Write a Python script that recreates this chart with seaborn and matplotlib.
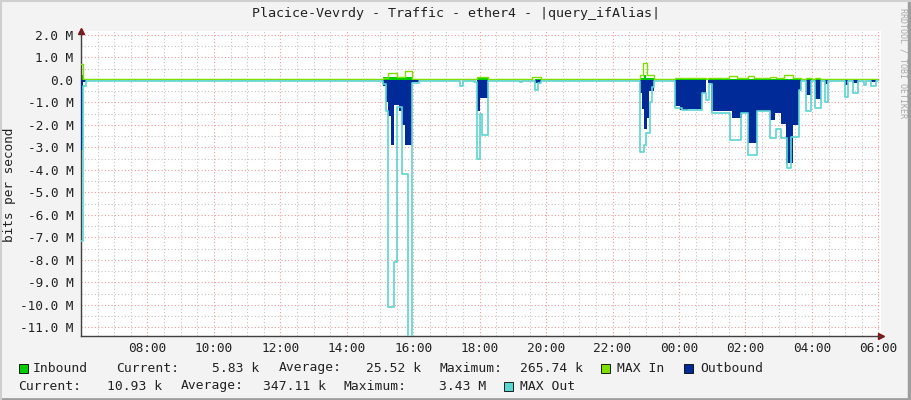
import matplotlib
matplotlib.use("Agg")
import matplotlib.pyplot as plt
from matplotlib.patches import Rectangle
from matplotlib.lines import Line2D
from matplotlib.ticker import MultipleLocator
import seaborn as sns

title = "Placice-Vevrdy - Traffic - ether4 - |query_ifAlias|"

# traffic in Mbit/s, each value holds from its clock time to the next one
in_times = ["06:00", "06:04", "15:05", "15:57", "17:55", "18:15", "19:40", "19:50",
            "22:50", "22:56", "23:01", "23:14", "23:52", "00:48", "00:53", "03:40", "05:59"]
in_vals = [0.20, 0.02, 0.12, 0.03, 0.08, 0.02, 0.06, 0.02,
           0.08, 0.20, 0.08, 0.02, 0.05, 0.03, 0.05, 0.03, 0.03]

maxin_times = ["06:00", "06:04", "15:05", "15:15", "15:30", "15:45", "15:57", "17:55", "18:15",
               "19:35", "19:50", "22:50", "22:55", "23:03", "23:14", "23:52", "00:48", "00:53",
               "01:30", "01:45", "02:05", "02:15", "02:45", "02:55", "03:10", "03:25", "03:40",
               "03:50", "04:00", "04:05", "04:15", "05:59"]
maxin_vals = [0.70, 0.03, 0.10, 0.30, 0.15, 0.40, 0.05, 0.15, 0.05,
              0.12, 0.05, 0.20, 0.75, 0.20, 0.04, 0.08, 0.05, 0.08,
              0.16, 0.08, 0.16, 0.08, 0.13, 0.08, 0.22, 0.08, 0.05,
              0.08, 0.05, 0.08, 0.04, 0.04]

out_times = ["06:00", "06:04", "06:09", "15:05", "15:10", "15:15", "15:20", "15:25", "15:35",
             "15:40", "15:45", "15:57", "16:10", "17:55", "18:00", "18:15", "19:40", "19:50",
             "22:50", "22:53", "22:57", "23:02", "23:06", "23:14", "23:52", "00:02", "00:17",
             "00:42", "00:48", "00:53", "00:58", "01:35", "01:53", "02:05", "02:20", "02:45",
             "02:54", "03:05", "03:14", "03:25", "03:36", "03:40", "03:49", "03:58", "04:05",
             "04:17", "04:23", "04:29", "05:00", "05:05", "05:15", "05:24", "05:46", "05:55", "05:59"]
out_vals = [-3.10, -0.10, -0.01, -0.25, -1.00, -1.60, -2.90, -1.10, -1.40,
            -2.00, -2.90, -0.10, -0.01, -1.40, -0.80, -0.01, -0.15, -0.01,
            -0.60, -1.30, -2.20, -1.70, -0.50, -0.01, -1.16, -1.33, -1.27,
            -0.58, -0.02, -0.15, -1.40, -1.70, -1.45, -2.80, -1.40, -1.80,
            -1.45, -1.95, -3.70, -2.00, -0.50, -0.01, -0.65, -0.01, -0.85,
            -0.01, -0.18, -0.01, -0.22, -0.01, -0.15, -0.01, -0.08, -0.01, -0.01]

maxout_times = ["06:00", "06:04", "06:09", "15:05", "15:10", "15:15", "15:25", "15:30", "15:40",
                "15:50", "15:57", "16:10", "17:25", "17:30", "17:50", "17:55", "18:00", "18:05",
                "18:15", "19:13", "19:17", "19:40", "19:45", "19:50", "22:50", "22:56", "23:01",
                "23:07", "23:11", "23:15", "23:52", "00:05", "00:42", "00:48", "00:55", "01:00",
                "01:32", "01:52", "02:05", "02:20", "02:45", "02:55", "03:05", "03:15", "03:23",
                "03:36", "03:41", "03:49", "03:58", "04:05", "04:17", "04:23", "04:29", "05:00",
                "05:05", "05:15", "05:24", "05:35", "05:38", "05:46", "05:55", "05:59"]
maxout_vals = [-7.15, -0.25, -0.03, -0.20, -1.40, -10.10, -8.10, -1.20, -4.20,
               -13.0, -0.12, -0.03, -0.25, -0.03, -0.10, -3.50, -1.50, -2.45,
               -0.03, -0.10, -0.03, -0.45, -0.15, -0.03, -3.20, -2.90, -2.35,
               -1.00, -0.30, -0.03, -1.25, -1.33, -0.60, -0.90, -0.20, -1.45,
               -2.67, -1.47, -3.35, -1.40, -2.60, -2.20, -2.60, -3.90, -2.55,
               -0.45, -0.03, -1.36, -0.03, -1.26, -0.03, -1.00, -0.03, -0.74,
               -0.03, -0.60, -0.03, -0.22, -0.03, -0.27, -0.03, -0.03]

xtick_labels = ["08:00", "10:00", "12:00", "14:00", "16:00", "18:00",
                "20:00", "22:00", "00:00", "02:00", "04:00", "06:00"]
ytick_values = [2, 1, 0, -1, -2, -3, -4, -5, -6, -7, -8, -9, -10, -11]

legend_row1 = [("Current:", 116), ("5.83 k", 212), ("Average:", 279), ("25.52 k", 366),
               ("Maximum:", 440), ("265.74 k", 520)]
legend_row2 = [("Current:", 18), ("10.93 k", 107), ("Average:", 181), ("347.11 k", 263),
               ("Maximum:", 343), ("3.43 M", 439)]

c_in, c_maxin, c_out, c_maxout = "#00cc00", "#7ee000", "#002a97", "#5ad6d2"


def to_hours(clock):
    hh, mm = map(int, clock.split(":"))
    h = hh + mm / 60 - 6
    return h + 24 if h < 0 else h


sns.set_theme(style="white")
plt.rcParams["font.family"] = ["DejaVu Sans Mono"]

W, H = 911, 400
fig = plt.figure(figsize=(9.11, 4.0), dpi=100, facecolor="#f3f3f3")
ax = fig.add_axes([81 / W, 1 - 336 / H, 800 / W, 305.5 / H])
ax.set_facecolor("white")

h_in = [to_hours(t) for t in in_times]
h_maxin = [to_hours(t) for t in maxin_times]
h_out = [to_hours(t) for t in out_times]
h_maxout = [to_hours(t) for t in maxout_times]

ax.fill_between(h_in, in_vals, 0, step="post", color=c_in, lw=0, zorder=2)
sns.lineplot(x=h_maxin, y=maxin_vals, ax=ax, color=c_maxin, lw=1.0,
             drawstyle="steps-post", estimator=None, sort=False, zorder=3)
ax.fill_between(h_out, out_vals, 0, step="post", color=c_out, lw=0, zorder=4)
sns.lineplot(x=h_maxout, y=maxout_vals, ax=ax, color=c_maxout, lw=1.2,
             drawstyle="steps-post", estimator=None, sort=False, zorder=5)

ax.set_xlim(0, 24.08)
ax.set_ylim(-11.38, 2.2)
ax.set_xticks([2 * (i + 1) for i in range(len(xtick_labels))])
ax.set_xticklabels(xtick_labels)
ax.xaxis.set_minor_locator(MultipleLocator(0.5))
ax.set_yticks(ytick_values)
ax.set_yticklabels([f"{v:.1f} M" if v != 0 else "0.0" for v in ytick_values])
ax.yaxis.set_minor_locator(MultipleLocator(0.5))

ax.grid(which="major", color="#f09a9a", linestyle=(0, (1, 2)), lw=0.8)
ax.grid(which="minor", color="#c4c4c4", linestyle=(0, (1, 2)), lw=0.8)
ax.set_axisbelow(True)

for side in ["top", "right"]:
    ax.spines[side].set_visible(False)
for side in ["left", "bottom"]:
    ax.spines[side].set_color("#404040")
    ax.spines[side].set_linewidth(1.0)
ax.tick_params(which="major", length=3, width=0.8, color="#404040", direction="inout",
               labelsize=9.2, labelcolor="#222222")
ax.tick_params(which="minor", length=2, width=0.6, color="#808080", direction="inout")
ax.tick_params(axis="x", pad=3)
ax.tick_params(axis="y", pad=4)
ax.set_ylabel("")

ax.plot(0, 1, marker="^", ms=5, color="#8b1010", transform=ax.transAxes, clip_on=False)
ax.plot(1, 0, marker=">", ms=5, color="#8b1010", transform=ax.transAxes, clip_on=False)

fig.text(455.5 / W, 1 - 13 / H, title, ha="center", va="center", fontsize=9.6, color="#222222")
fig.text(10 / W, 1 - 185 / H, "bits per second", rotation=90, ha="center", va="center",
         fontsize=9.2, color="#222222")
fig.text(903 / W, 1 - 63 / H, "RRDTOOL / TOBI OETIKER", rotation=270, ha="center",
         va="center", fontsize=6, color="#a8a8a8")

# legend
def square(x, y, color):
    fig.patches.append(Rectangle((x / W, 1 - (y + 4.5) / H), 9 / W, 9 / H, facecolor=color,
                                 edgecolor="black", lw=0.6, transform=fig.transFigure))


def label(x, y, s):
    fig.text(x / W, 1 - y / H, s, ha="left", va="center", fontsize=9.4, color="#222222")


y1, y2 = 368, 386
square(18.5, y1, c_in)
label(33, y1, "Inbound")
for s, x in legend_row1:
    label(x, y1, s)
square(601, y1, c_maxin)
label(617, y1, "MAX In")
square(684, y1, c_out)
label(700, y1, "Outbound")
for s, x in legend_row2:
    label(x, y2, s)
square(504, y2, c_maxout)
label(520, y2, "MAX Out")

# frame shading
fig.add_artist(Line2D([0, 1], [0.003, 0.003], color="#9e9e9e", lw=2))
fig.add_artist(Line2D([0.998, 0.998], [0, 1], color="#9e9e9e", lw=2.5))
fig.add_artist(Line2D([0, 1], [0.998, 0.998], color="#cfcfcf", lw=1.5))
fig.add_artist(Line2D([0.001, 0.001], [0, 1], color="#cfcfcf", lw=1.5))

fig.savefig("out.png", dpi=100, facecolor=fig.get_facecolor())
